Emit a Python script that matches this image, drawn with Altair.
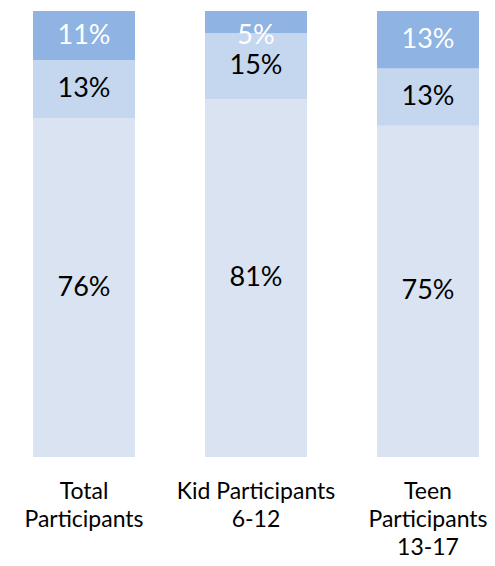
import altair as alt
import pandas as pd

groups = ["Total|Participants", "Kid Participants|6-12", "Teen|Participants|13-17"]
segments = ["Bottom", "Middle", "Top"]
bottom_vals = [76, 81, 75]
middle_vals = [13, 15, 13]
top_vals = [11, 5, 13]
seg_colors = ["#DAE3F2", "#C5D7EF", "#8FB3E2"]
label_colors = ["#000000", "#000000", "#FFFFFF"]

rows = []
for i, g in enumerate(groups):
    for j, (s, vals) in enumerate(zip(segments, [bottom_vals, middle_vals, top_vals])):
        rows.append({"group": g, "segment": s, "order": j, "value": vals[i],
                     "label": f"{vals[i]}%", "lcolor": label_colors[j]})
df = pd.DataFrame(rows)

FONT = "Lato"

base = alt.Chart(df).encode(
    x=alt.X("group:N", sort=groups,
            scale=alt.Scale(paddingInner=0.407, paddingOuter=0),
            axis=alt.Axis(title=None, labelAngle=0, domain=False, ticks=False,
                          labelExpr="split(datum.label, '|')",
                          labelFont=FONT, labelFontSize=23, labelColor="#000000",
                          labelLineHeight=28, labelPadding=23, labelBaseline="top",
                          labelLimit=300)),
)

bars = base.mark_bar(size=102).encode(
    y=alt.Y("value:Q", stack="normalize", axis=None),
    color=alt.Color("segment:N", scale=alt.Scale(domain=segments, range=seg_colors), legend=None),
    order=alt.Order("order:Q"),
)

texts = base.transform_stack(
    stack="value", groupby=["group"], as_=["v0", "v1"], offset="normalize",
    sort=[alt.SortField("order", "ascending")]
).transform_calculate(
    mid="min((datum.v0 + datum.v1) / 2, 0.945)"
).mark_text(font=FONT, fontSize=27, baseline="middle").encode(
    y=alt.Y("mid:Q", axis=None, scale=alt.Scale(domain=[0, 1])),
    text="label:N",
    color=alt.Color("lcolor:N", scale=None),
)

chart = (bars + texts).properties(
    width=446, height=446,
    autosize=alt.AutoSizeParams(type="none"),
    padding={"left": 25, "top": 3, "right": 8, "bottom": 101},
).configure_view(stroke=None)

chart.save("out.html", embed_options={"renderer": "svg", "actions": False})
